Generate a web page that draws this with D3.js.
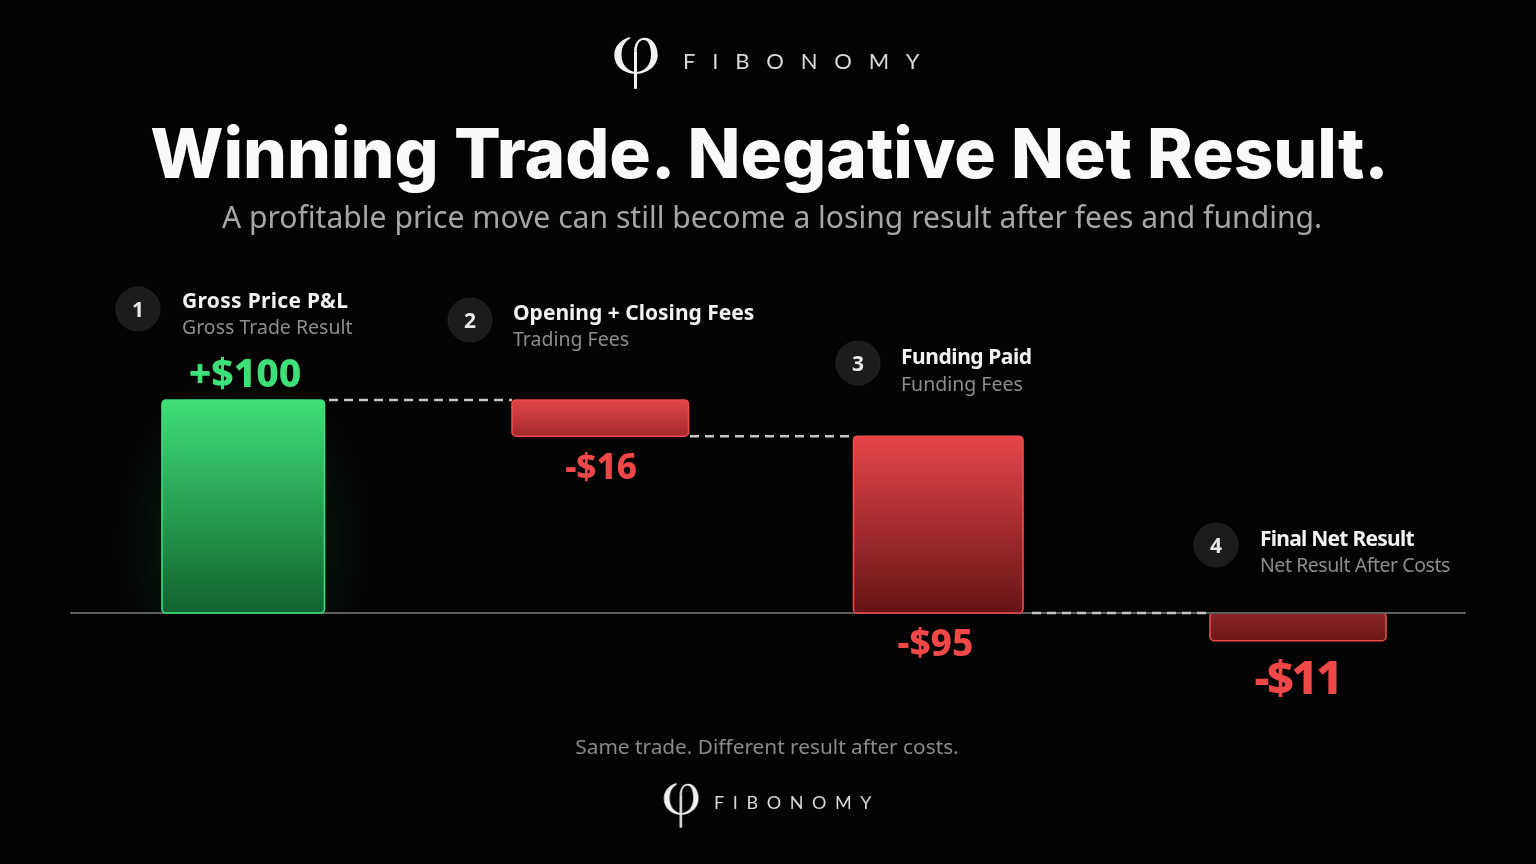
<!DOCTYPE html>
<html><head><meta charset="utf-8">
<script src="https://cdn.jsdelivr.net/npm/d3@7/dist/d3.min.js"></script>
<style>html,body{margin:0;background:#030303;overflow:hidden}svg{display:block}text{font-family:"Noto Sans",Inter,sans-serif}</style>
</head><body><svg id="c" width="1536" height="864"></svg>
<script>
const steps = ["1","2","3","4"];
const titles = ["Gross Price P&L","Opening + Closing Fees","Funding Paid","Final Net Result"];
const subtitles = ["Gross Trade Result","Trading Fees","Funding Fees","Net Result After Costs"];
const valueLabels = ["+$100","-$16","-$95","-$11"];
const barFrom = [0,100,83,0];
const barTo = [100,83,0,-13];
const connectorLevels = [100,83,0];

const svg = d3.select("#c");
const defs = svg.append("defs");
function grad(id,top,bottom){
  const g=defs.append("linearGradient").attr("id",id).attr("x1",0).attr("y1",0).attr("x2",0).attr("y2",1);
  g.append("stop").attr("offset",0).attr("stop-color",top);
  g.append("stop").attr("offset",1).attr("stop-color",bottom);
}
grad("gGreen","#40df76","#11622f");
grad("gRed2","#e24646","#a32a2c");
grad("gRed3","#e64547","#651416");
grad("gRed4","#8a2526","#6e1618");
const glow=defs.append("radialGradient").attr("id","gGlow");
glow.append("stop").attr("offset",0).attr("stop-color","#22c55e").attr("stop-opacity",0.2);
glow.append("stop").attr("offset",0.55).attr("stop-color","#22c55e").attr("stop-opacity",0.1);
glow.append("stop").attr("offset",1).attr("stop-color","#22c55e").attr("stop-opacity",0);
defs.append("filter").attr("id","soft").attr("x","-5%").attr("y","-20%").attr("width","110%").attr("height","140%")
  .append("feGaussianBlur").attr("stdDeviation",0.45);
defs.append("clipPath").attr("id","clipUp").append("rect").attr("x",0).attr("y",0).attr("width",1536).attr("height",613);

const y = d3.scaleLinear().domain([0,100]).range([613,400]);
const xLeft = d3.scaleOrdinal().domain(steps).range([162,512,853.5,1210]);
const xWidth = d3.scaleOrdinal().domain(steps).range([162.5,176.5,169.5,176]);
const fills = d3.scaleOrdinal().domain(steps).range(["url(#gGreen)","url(#gRed2)","url(#gRed3)","url(#gRed4)"]);
const strokes = d3.scaleOrdinal().domain(steps).range(["#3fe07a","#f04a4a","#f04a4a","#f04a4a"]);
const valueColor = d3.scaleOrdinal().domain(steps).range(["#3ee077","#f04747","#f04747","#f04747"]);
const cardX = d3.scaleOrdinal().domain(steps).range([138,470,858,1216]);
const cardY = d3.scaleOrdinal().domain(steps).range([309,320,363,545]);
const textX = d3.scaleOrdinal().domain(steps).range([182,513,901,1260]);
const titleY = d3.scaleOrdinal().domain(steps).range([308,320,364,546]);
const subY = d3.scaleOrdinal().domain(steps).range([334,346,391,572]);
const titleTrack = d3.scaleOrdinal().domain(steps).range([0.3,0,-0.45,-0.75]);
const subTrack = d3.scaleOrdinal().domain(steps).range([0,0,0,-0.45]);
const valueX = d3.scaleOrdinal().domain(steps).range([245,601,935.5,1297.5]);
const valueY = d3.scaleOrdinal().domain(steps).range([387,479,656,694]);
const valueSize = d3.scaleOrdinal().domain(steps).range([39,35,37,47]);
const valueTrack = d3.scaleOrdinal().domain(steps).range([0,0,0,-2.6]);

svg.append("rect").attr("width",1536).attr("height",864).attr("fill","#030303");
svg.append("ellipse").attr("clip-path","url(#clipUp)").attr("cx",243).attr("cy",540).attr("rx",125).attr("ry",170).attr("fill","url(#gGlow)");

function phi(g,s){
  g.attr("fill","#f2f2f2");
  g.append("path").attr("d","M15.5,0 C5,3 -0.2,10 -0.2,18 C-0.2,29 9,36.5 21,37 L21,35 C14,34.5 7,28 7,18 C7,10 10,5 15.8,1.6 Z");
  g.append("path").attr("d","M19.5,14 C20,6 24,0.8 30,0.8 C38,0.8 43.2,9 43.2,18 C43.2,29 33,36.5 22,37 L22,35 C30,34.5 36.5,28 36.5,18 C36.5,9 34,3 29,3 C24.5,3 22.3,8 22.3,14 Z");
  g.append("rect").attr("x",19.5).attr("y",14).attr("width",3).attr("height",38).attr("rx",1);
  g.attr("transform",s);
}
const page = svg.append("g").attr("filter","url(#soft)");
phi(page.append("g"),"translate(614.5,37)");
phi(page.append("g"),"translate(664,783) scale(0.8,0.86)");
page.append("text").attr("x",683).attr("y",69).attr("font-size",22).attr("font-weight",400).attr("fill","#d8d8d8").attr("letter-spacing","16.8px").style("font-family","Lato").text("FIBONOMY");
page.append("text").attr("x",714).attr("y",809).attr("font-size",18).attr("font-weight",400).attr("fill","#d8d8d8").attr("letter-spacing","8.6px").style("font-family","Lato").text("FIBONOMY");
page.append("text").attr("x",769.5).attr("y",178).attr("text-anchor","middle").attr("font-size",69.2).attr("font-weight",800).attr("fill","#fafafa").style("font-family","Inter").text("Winning Trade. Negative Net Result.");
page.append("text").attr("x",772).attr("y",228).attr("text-anchor","middle").attr("font-size",30.1).attr("fill","#a6a6a6").text("A profitable price move can still become a losing result after fees and funding.");
page.append("text").attr("x",767).attr("y",754).attr("text-anchor","middle").attr("font-size",20.8).attr("fill","#8a8a8a").text("Same trade. Different result after costs.");

// baseline
svg.append("line").attr("x1",70).attr("x2",1466).attr("y1",y(0)).attr("y2",y(0)).attr("stroke","#5e5e5e").attr("stroke-width",2);

// connectors
const connEnds = [[329,512],[690,853],[1032,1210]];
svg.selectAll(".conn").data(connectorLevels).join("line").attr("class","conn")
  .attr("x1",(d,i)=>connEnds[i][0]).attr("x2",(d,i)=>connEnds[i][1])
  .attr("y1",d=>y(d)).attr("y2",d=>y(d))
  .attr("stroke","#c4c4c4").attr("stroke-width",2.4).attr("stroke-dasharray","9 6");

// bars
const bars = steps.map((s,i)=>({s,top:Math.max(barFrom[i],barTo[i]),bot:Math.min(barFrom[i],barTo[i])}));
svg.selectAll(".bar").data(bars).join("rect").attr("class","bar")
  .attr("x",d=>xLeft(d.s)).attr("width",d=>xWidth(d.s))
  .attr("y",d=>y(d.top)).attr("height",d=>y(d.bot)-y(d.top))
  .attr("rx",4).attr("fill",d=>fills(d.s)).attr("stroke",d=>strokes(d.s)).attr("stroke-width",1.6);
svg.append("line").attr("x1",1210).attr("x2",1466).attr("y1",y(0)).attr("y2",y(0)).attr("stroke","#5e5e5e").attr("stroke-width",2);

// badges + labels
const card = page.selectAll(".card").data(steps).join("g").attr("class","card");
card.append("circle").attr("cx",d=>cardX(d)).attr("cy",d=>cardY(d)).attr("r",22).attr("fill","#1a1a1a").attr("stroke","#242424");
card.append("text").attr("x",d=>cardX(d)).attr("y",d=>cardY(d)+7.5).attr("text-anchor","middle").attr("font-size",21).attr("font-weight",700).attr("fill","#e8e8e8").text(d=>d);
card.append("text").attr("x",d=>textX(d)).attr("y",d=>titleY(d)).attr("font-size",21).attr("font-weight",700).attr("fill","#f2f2f2").attr("letter-spacing",d=>titleTrack(d)).text((d,i)=>titles[i]);
card.append("text").attr("x",d=>textX(d)).attr("y",d=>subY(d)).attr("font-size",19.5).attr("fill","#8d8d8d").attr("letter-spacing",d=>subTrack(d)).text((d,i)=>subtitles[i]);

page.selectAll(".val").data(steps).join("text").attr("class","val")
  .attr("x",d=>valueX(d)).attr("y",d=>valueY(d)).attr("text-anchor","middle")
  .attr("font-size",d=>valueSize(d)).attr("font-weight",800).attr("fill",d=>valueColor(d)).attr("letter-spacing",d=>valueTrack(d))
  .text((d,i)=>valueLabels[i]);
</script></body></html>
